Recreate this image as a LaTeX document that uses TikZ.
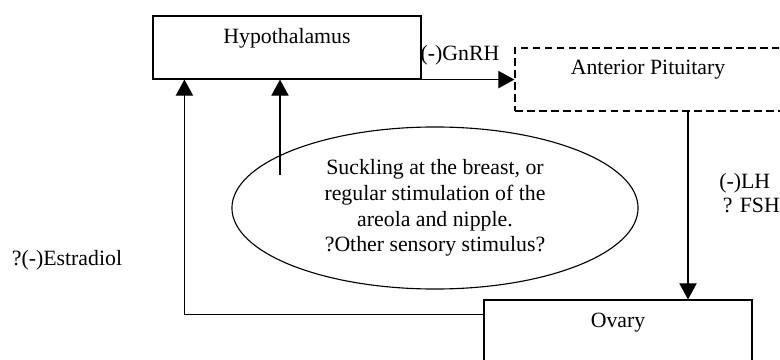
\documentclass[tikz,border=0pt]{standalone}
\usepackage{fontspec}
\setmainfont{Liberation Serif}
\usetikzlibrary{shapes.geometric, arrows.meta, positioning, calc}
\tikzset{
  organ/.style={rectangle, draw, line width=0.8pt, minimum width=6.7cm,
                minimum height=1.575cm, inner sep=0pt},
  title/.style={font=\fontsize{15.5}{18.5}\selectfont, inner sep=0pt},
  stim/.style={ellipse, draw, line width=0.8pt, minimum width=10.15cm,
               minimum height=4.05cm, inner sep=0pt, align=center,
               font=\fontsize{15.5}{18.3}\selectfont},
  hormone/.style={font=\fontsize{15.5}{17}\selectfont, align=left, inner sep=0pt},
  arr/.style={-{Triangle[length=0.4cm, width=0.43cm]}, line width=0.8pt},
}

\begin{document}
\begin{tikzpicture}[x=0.025cm, y=-0.025cm]

\useasboundingbox (0,0) rectangle (780,360);
\clip (0,0) rectangle (780,360);

% ========== Organy ==========
\node[organ] (hypo) at (287,47.5) {};
\node[organ, dashed, dash pattern=on 5.5pt off 3pt] (pit) at (649,79.5) {};
\node[organ] (ovary) at (618,331.5) {};

\node[title] (hypotxt) at ($(hypo.north)+(0,23)$) {Hypothalamus};
\node[title] (pittxt) at ($(pit.north)+(-1,22)$) {Anterior Pituitary};
\node[title] (ovarytxt) at ($(ovary.north)+(0,23)$) {Ovary};

% ========== Bodziec ==========
\node[stim] (suck) at (435,208) {Suckling at the breast, or\\
  regular stimulation of the\\ areola and nipple.\\ ?Other sensory stimulus?};

% ========== Hormony ==========
% GnRH do przysadki
\draw[arr] (hypo.south east) -- (hypo.south east -| pit.west);
\node[title] (gnrh) at (460,55) {(-)GnRH};

% LH / FSH do jajnika
\coordinate (lhtop) at ($(pit.south)+(39,0)$);
\draw[arr] (lhtop) -- (lhtop |- ovary.north);
\node[hormone, anchor=west] (lhfsh) at (719,193) {(-)LH\\\,? FSH};

% Estradiol z powrotem do podwzgorza
\coordinate (fbstart) at ($(ovary.north west)+(0,15)$);
\coordinate (fbup) at ($(hypo.south west)+(32,0)$);
\draw[arr] (fbstart) -- (fbstart -| fbup) -- (fbup);
\node[title] (e2) at (67,260) {?(-)Estradiol};

% Ssanie do podwzgorza
\coordinate (suckin) at (280,175);
\draw[arr] (suckin) -- (suckin |- hypo.south);

\end{tikzpicture}
\end{document}
